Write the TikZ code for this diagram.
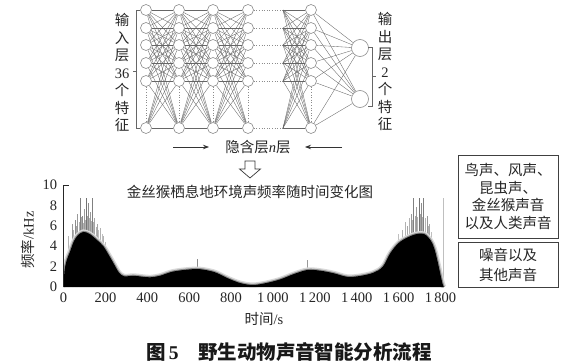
\documentclass[tikz,border=0pt]{standalone}
\usepackage{fontspec}
\setmainfont{Liberation Serif}
\newfontfamily\cjk{Noto Sans CJK SC}
\usetikzlibrary{backgrounds,arrows.meta}
\begin{document}
\begin{tikzpicture}[x=1pt,y=-1pt,
  neur/.style={circle,draw=black!45,fill=white,line width=0.6pt,minimum size=11pt,inner sep=0pt},
  outn/.style={neur,minimum size=17pt},
  conn/.style={black!60,line width=0.35pt},
  dotl/.style={black!45,dotted,line width=0.6pt},
  brk/.style={black!60,line width=0.6pt},
  txt/.style={font=\cjk\fontsize{14.5}{17.5}\selectfont,inner sep=0pt,align=center,text=black!85},
  harr/.style={-{Stealth[length=6pt,width=4.5pt]},line width=0.8pt,black!80},
  ticklab/.style={font=\fontsize{14.5}{16}\selectfont,inner sep=0pt,text=black!85},
  tbox/.style={draw=black!75,line width=0.7pt,minimum width=100pt,inner sep=0pt,align=center,text=black!85}
]
\useasboundingbox (0,0) rectangle (587,364);
% ---------------- network ----------------
\foreach \c/\x in {1/146,2/179,3/213,4/248,5/311}{
  \foreach \r/\y in {1/10,2/28,3/45,4/63,5/81,6/128}{
    \node[neur] (n\c-\r) at (\x,\y) {};
  }
}
\foreach \r/\y in {1/10,2/28,3/45,4/63,5/81,6/128}{
  \coordinate (p\r) at (283,\y);
}
\node[outn] (o1) at (360,48) {};
\node[outn] (o2) at (360,99) {};
\begin{scope}[on background layer]
  \fill[white] (0,0) rectangle (587,364);
  \foreach \c/\d in {1/2,2/3,3/4}{
    \foreach \i in {1,...,6}{
      \foreach \j in {1,...,6}{
        \draw[conn] (n\c-\i) -- (n\d-\j);
      }
    }
  }
  \foreach \i in {1,...,6}{
    \foreach \j in {1,...,6}{
      \draw[conn] (p\i) -- (n5-\j);
    }
    \draw[conn] (n5-\i) -- (o1);
    \draw[conn] (n5-\i) -- (o2);
    \draw[dotl] (n4-\i) -- (p\i);
  }
  \foreach \c in {1,...,5}{
    \draw[dotl] (n\c-5) -- (n\c-6);
  }
\end{scope}
% brackets
\draw[brk] (n1-1.west) -- ++(-3.5,0) |- (n1-6.west);
\coordinate (lt1) at (137,71);
\coordinate (lt2) at (133,71);
\draw[brk] (lt1) -- (lt2);
\coordinate (rb1) at (368,47);
\coordinate (rb2) at (368,106);
\draw[brk] (rb1) -- ++(4,0) |- (rb2);
\coordinate (rt1) at (372,76.5);
\coordinate (rt2) at (376,76.5);
\draw[brk] (rt1) -- (rt2);
% side texts
\node[txt] (lt) at (122,72.5) {输\\入\\层\\{\rmfamily 36}\\个\\特\\征};
\node[txt] (rt) at (385,71.5) {输\\出\\层\\{\rmfamily 2}\\个\\特\\征};
% hidden layer label and arrows
\node[txt] (hid) at (258,147) {隐含层{\rmfamily\itshape n}层};
\coordinate (a1) at (173,147);
\coordinate (a2) at (209,147);
\draw[harr] (a1) -- (a2);
\coordinate (b1) at (342,147);
\coordinate (b2) at (305,147);
\draw[harr] (b1) -- (b2);
% hollow down arrow
\draw[black!80,line width=0.7pt,fill=white,line join=miter]
  (245,161) -- (255,161) -- (255,169) -- (260.5,169) -- (250,178) -- (239.5,169) -- (245,169) -- cycle;
% chart title
\node[txt] (ct) at (250,192) {金丝猴栖息地环境声频率随时间变化图};
% ---------------- spectrum plot ----------------
\begin{scope}[shift={(63.5,287)},x={(0.20944pt,0pt)},y={(0pt,10.2pt)}]
  \def\env{plot[smooth,tension=0.55] coordinates {(0,0) (5,1.6) (15,2.6) (30,3.4) (50,4.5) (70,5.1) (95,5.4) (125,5.2) (160,4.6) (190,4.0) (220,3.0) (245,2.1) (265,1.4) (290,1.05) (335,1.1) (380,1.0) (415,0.95) (460,1.1) (520,1.5) (590,1.7) (650,1.75) (715,1.5) (750,1.2) (785,0.85) (845,0.38) (905,0.2) (970,0.4) (1035,0.75) (1100,1.27) (1165,1.67) (1225,1.6) (1290,1.35) (1355,1.0) (1415,1.08) (1480,1.4) (1525,2.0) (1560,3.3) (1605,4.4) (1670,5.1) (1720,5.2) (1752,4.6) (1770,3.8) (1785,2.6) (1800,1.2) (1810,0.3) (1816,0)}}
  \begin{scope}
    \clip (0,0) rectangle (1830,10);
    % grey spikes
    \foreach \t/\f/\g in {25/5.0/30,40/6.2/40,48/5.6/30,55/6.6/45,62/6.0/35,68/7.2/40,75/6.4/30,81/8.7/50,86/6.9/35,90/7.0/45,95/6.3/30,100/7.6/40,105/6.6/30,110/8.7/55,114/7.0/35,118/8.2/45,123/6.8/30,128/7.4/40,133/6.5/30,137/8.7/50,142/6.4/30,148/6.8/35,155/5.9/30,160/6.2/35,168/5.6/25,175/5.8/30,183/5.2/25,190/5.0/30,200/4.4/25,640/2.7/45,1164/2.6/40,1600/5.2/25,1620/5.6/30,1632/6.4/30,1640/6.0/35,1650/6.8/30,1660/7.2/40,1666/6.6/30,1672/8.7/50,1678/7.0/35,1685/7.8/40,1691/6.9/30,1697/8.7/55,1703/7.2/35,1708/8.2/45,1714/6.9/30,1720/8.7/50,1727/6.8/30,1735/7.0/40,1742/6.0/30,1748/6.2/35,1756/5.4/25}{
      \draw[black!\g,line width=0.6pt] (\t,0) -- (\t,\f);
    }
    \draw[black!25,line width=1pt] (1812,0) -- (1812,8.7);
    \draw[black!15,line width=5pt] \env;
    \draw[black!45,line width=2.2pt] \env;
    \fill[black] \env -- cycle;
  \end{scope}
  % axis
  \draw[black!85,line width=0.7pt] (0,0) -- (0,10) -- (28,10);
  \foreach \f in {0,2,4,6,8,10}{
    \node[ticklab,anchor=east] (yt\f) at (-30,\f) {\f};
  }
  \foreach \t/\l in {0/0,200/200,400/400,600/600,800/800,1000/{1\,000},1200/{1\,200},1400/{1\,400},1600/{1\,600},1800/{1\,800}}{
    \node[ticklab] (xt\t) at (\t,-1.1) {\l};
  }
\end{scope}
\node[txt,rotate=90] (ylab) at (28,240) {频率{\rmfamily/kHz}};
\node[txt] (xlab) at (264,319) {时间{\rmfamily/s}};
% ---------------- right boxes ----------------
\node[tbox,minimum height=83pt,font=\cjk\fontsize{14.5}{17.6}\selectfont] (bx1) at (508,196.5) {鸟声、风声、\\昆虫声、\\金丝猴声音\\以及人类声音};
\node[tbox,minimum height=45pt,font=\cjk\fontsize{14.5}{20}\selectfont] (bx2) at (508,264.5) {噪音以及\\其他声音};
% ---------------- caption ----------------
\node[inner sep=0pt,font=\fontsize{19.5}{22}\selectfont\bfseries,text=black!90] (cap) at (289,352) {{\cjk 图}\,5\hspace{1em}{\cjk 野生动物声音智能分析流程}};
\end{tikzpicture}
\end{document}
